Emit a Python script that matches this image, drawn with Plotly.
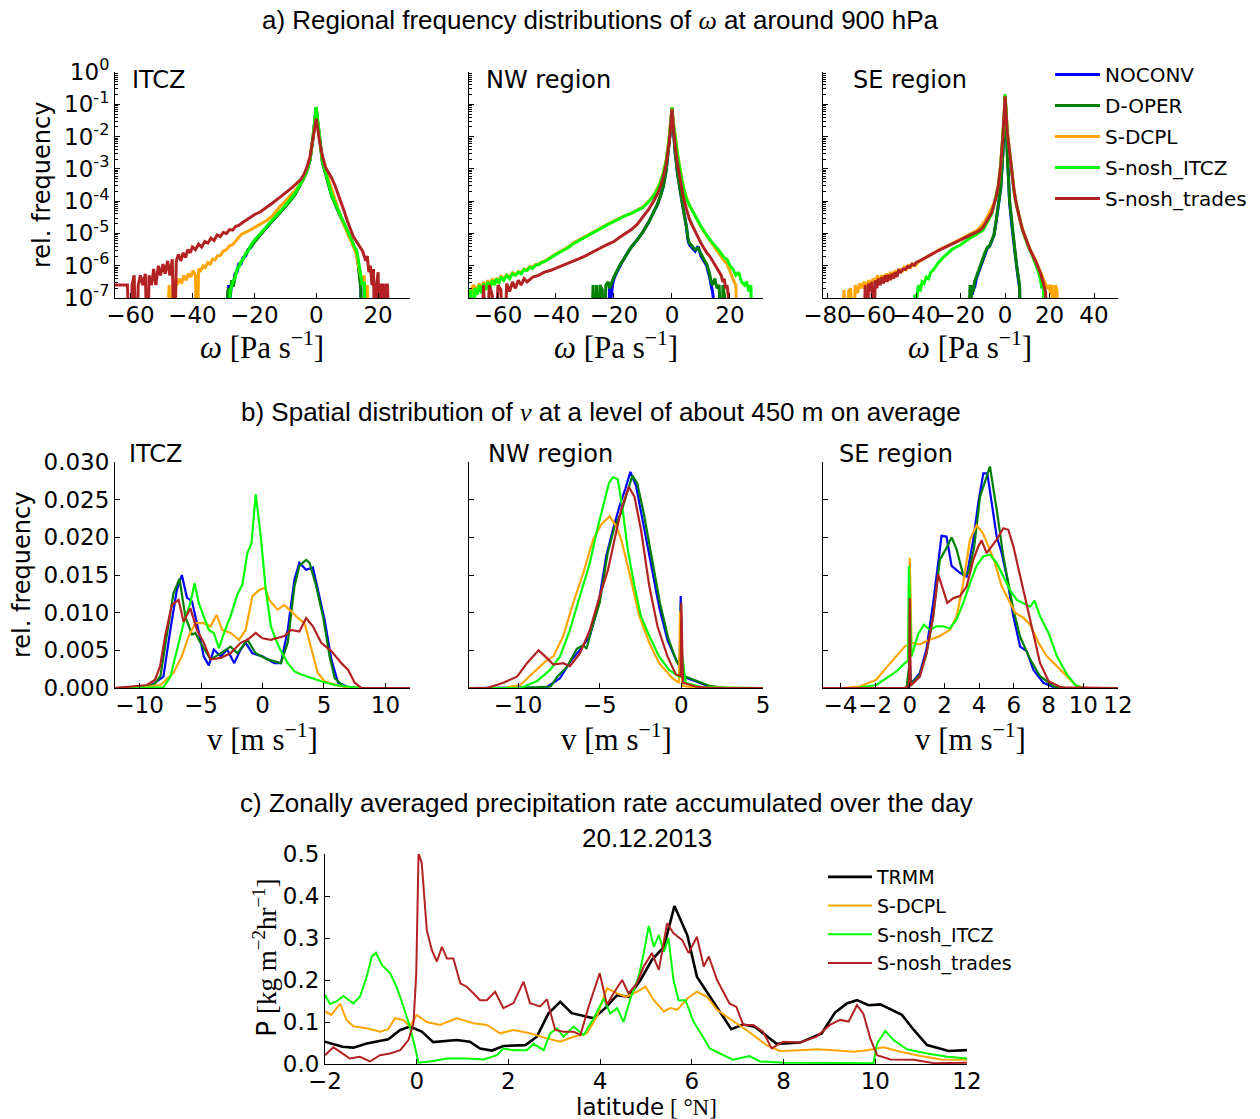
import numpy as np
import plotly.graph_objects as go

W, H = 1260, 1119

COLORS = {"NOCONV": "#0000ff", "D-OPER": "#008000", "S-DCPL": "#ffa500",
          "S-nosh_ITCZ": "#00ff00", "S-nosh_trades": "#b22222", "TRMM": "#000000"}
MODELS = ["NOCONV", "D-OPER", "S-DCPL", "S-nosh_ITCZ", "S-nosh_trades"]

# ---------------- a) omega distributions: log10(rel. frequency), -9 = empty bin ----------------
A1_CORE_X = [-29.5, -28.6, -28.3, -27.8, -27.3, -26.8, -26.2, -25.6, -25.0, -24.3, -23.6, -22.8, -22.0, -21.0,
             -20.0, -18.5, -17.0, -15.0, -13.0, -11.0, -9.0, -7.0, -5.0, -4.0, -3.0, -2.0, -1.0, -0.5, 0.0, 0.5,
             1.0, 2.0, 3.0, 4.0, 5.0, 6.0, 7.0, 8.0, 9.0, 10.0, 11.0, 11.8, 12.5, 13.0, 13.5, 14.0, 14.4, 14.8,
             15.5, 16.2, 17.0]
A1_NOCONV = [-9, -9, -6.6, -7.0, -6.5, -6.6, -6.25, -6.2, -5.95, -5.95, -5.75, -5.7, -5.5, -5.42, -5.25, -5.08,
             -4.9, -4.68, -4.48, -4.28, -4.05, -3.8, -3.45, -3.28, -3.05, -2.72, -2.0, -1.55, -1.1, -1.55, -2.0,
             -2.78, -3.12, -3.45, -3.82, -4.05, -4.3, -4.5, -4.7, -4.9, -5.1, -5.3, -5.5, -5.55, -5.85, -6.2,
             -6.6, -9, -9, -9, -9]
A1_DOPER = [-9, -6.8, -6.7, -6.9, -6.45, -6.65, -6.3, -6.15, -6.0, -5.9, -5.78, -5.65, -5.52, -5.4, -5.27, -5.1,
            -4.92, -4.7, -4.5, -4.3, -4.07, -3.82, -3.47, -3.3, -3.07, -2.74, -2.02, -1.57, -1.1, -1.57, -2.02,
            -2.8, -3.14, -3.47, -3.84, -4.07, -4.32, -4.52, -4.72, -4.92, -5.12, -5.32, -5.5, -5.6, -5.9, -6.3,
            -6.7, -9, -9, -9, -9]
A1_NOSH_ITCZ = [-9, -9, -9, -6.8, -6.6, -6.45, -6.4, -6.1, -6.05, -5.88, -5.8, -5.62, -5.55, -5.35, -5.22, -5.05,
                -4.88, -4.65, -4.45, -4.25, -4.03, -3.78, -3.44, -3.27, -3.04, -2.7, -1.98, -1.5, -1.08, -1.5,
                -1.98, -2.75, -3.1, -3.44, -3.8, -4.03, -4.28, -4.48, -4.68, -4.88, -5.08, -5.28, -5.45, -5.5,
                -5.75, -6.0, -6.3, -6.6, -6.5, -9, -9]
A1_DCPL_X = [-48.5, -47.5, -47.0, -46.3, -45.6, -45.0, -44.3, -43.5, -42.8, -42.0, -41.3, -40.5, -39.8, -39.0,
             -38.5, -38.0, -37.3, -36.5, -35.8, -35.0, -34.2, -33.5, -32.7, -32.0, -31.0, -30.0, -29.0, -28.0,
             -27.0, -26.0, -25.0, -24.0, -23.0, -22.0, -21.0, -20.0, -18.0, -16.0, -14.0, -12.0, -10.0, -8.0,
             -6.0, -5.0, -4.0, -3.0, -2.0, -1.0, -0.5, 0.0, 0.5, 1.0, 2.0, 3.0, 4.0, 5.0, 6.0, 7.0, 8.0, 9.0,
             10.0, 11.0, 12.0, 12.8, 13.5, 14.2, 15.0, 15.5, 16.0, 16.5, 17.0]
A1_DCPL = [-9, -6.6, -9, -6.6, -6.45, -6.6, -6.4, -6.55, -6.3, -6.45, -6.25, -6.35, -6.15, -6.3, -9, -6.1,
           -6.15, -6.0, -6.05, -5.9, -5.95, -5.8, -5.82, -5.7, -5.68, -5.55, -5.5, -5.38, -5.35, -5.22, -5.12,
           -5.02, -4.98, -4.92, -4.88, -4.82, -4.7, -4.6, -4.45, -4.2, -4.0, -3.8, -3.58, -3.45, -3.28, -3.02,
           -2.68, -2.0, -1.6, -1.2, -1.6, -2.0, -2.72, -3.05, -3.35, -3.65, -3.95, -4.25, -4.5, -4.75, -4.95,
           -5.15, -5.4, -5.6, -5.9, -6.3, -6.6, -6.3, -9, -6.6, -9]
A1_TRADES_X = [-66.0, -65.0, -63.0, -61.0, -60.0, -59.5, -58.8, -58.2, -57.5, -56.8, -56.0, -55.2, -54.5, -54.0,
               -53.2, -52.5, -51.8, -51.0, -50.3, -49.5, -48.8, -48.0, -47.3, -46.5, -45.8, -45.2, -44.5, -43.7,
               -43.0, -42.2, -41.5, -40.7, -40.0, -39.0, -38.0, -37.0, -36.0, -35.0, -34.0, -33.0, -32.0, -31.0,
               -30.0, -29.0, -28.0, -27.0, -26.0, -25.0, -24.0, -23.0, -22.0, -21.0, -20.0, -18.0, -16.0, -14.0,
               -12.0, -10.0, -8.0, -6.0, -5.0, -4.0, -3.0, -2.0, -1.0, -0.5, 0.0, 0.5, 1.0, 2.0, 3.0, 4.0, 5.0,
               6.0, 7.0, 8.0, 9.0, 10.0, 11.0, 12.0, 13.0, 14.0, 15.0, 16.0, 16.5, 17.0, 17.5, 18.0, 18.5, 19.0,
               19.5, 20.0, 20.5, 21.0, 21.5, 22.0, 22.5, 23.0, 23.3, 24.0]
A1_TRADES = [-6.6, -6.6, -6.6, -6.6, -9, -6.6, -6.3, -9, -6.6, -6.3, -6.6, -6.25, -9, -6.3, -6.6, -6.1, -6.6,
             -6.0, -6.3, -5.95, -6.25, -5.85, -6.3, -5.8, -9, -5.85, -5.65, -5.85, -5.6, -5.75, -5.5, -5.6, -5.42,
             -5.5, -5.33, -5.42, -5.25, -5.3, -5.15, -5.22, -5.05, -5.1, -4.97, -5.0, -4.88, -4.9, -4.78, -4.75,
             -4.68, -4.62, -4.55, -4.5, -4.42, -4.33, -4.2, -4.05, -3.9, -3.75, -3.6, -3.42, -3.33, -3.18, -2.95,
             -2.62, -2.05, -1.75, -1.45, -1.75, -2.1, -2.6, -2.95, -3.12, -3.28, -3.5, -3.75, -4.0, -4.3, -4.6,
             -4.88, -5.1, -5.25, -5.4, -5.55, -5.85, -5.7, -6.2, -6.0, -6.6, -6.1, -9, -6.6, -6.2, -9, -6.6,
             -6.6, -9, -6.6, -6.6, -9, -9]

A2_WIDE_X = [-72, -70.5, -70, -69.3, -68.6, -68, -67.2, -66.5, -65.7, -65, -64.2, -63.5, -62.7, -62, -61.2,
             -60.5, -59.7, -59, -58, -57, -56, -55, -54, -53, -52, -51, -50, -49, -48, -47, -46, -45, -44, -43,
             -42, -41, -40, -38, -36, -34, -32, -30, -28, -26, -24, -22, -20, -18, -16, -14, -12, -10, -8, -6,
             -5, -4, -3, -2, -1, -0.5, 0, 0.5, 1, 2, 3, 4, 5, 6, 8, 10, 12, 14, 16, 18, 19, 20, 21, 22, 23, 24,
             25, 25.8, 26.5, 27.2, 28, 29]
A2_NOSH_ITCZ = [-9, -6.8, -7.0, -6.75, -9, -6.7, -6.9, -6.6, -6.85, -6.55, -6.75, -6.5, -6.7, -6.45, -6.6, -6.4,
                -6.55, -6.35, -6.45, -6.3, -6.4, -6.25, -6.3, -6.2, -6.25, -6.12, -6.15, -6.05, -6.08, -5.98,
                -5.97, -5.9, -5.88, -5.82, -5.78, -5.72, -5.65, -5.55, -5.45, -5.32, -5.22, -5.1, -5.0, -4.9,
                -4.8, -4.72, -4.63, -4.53, -4.45, -4.38, -4.3, -4.2, -4.02, -3.8, -3.62, -3.42, -3.15, -2.75,
                -2.1, -1.65, -1.1, -1.6, -2.0, -2.6, -3.15, -3.6, -3.92, -4.12, -4.45, -4.78, -5.05, -5.3, -5.5,
                -5.75, -5.8, -6.0, -6.1, -6.3, -6.2, -6.5, -6.6, -6.5, -6.8, -6.6, -9, -9]
A2_DCPL = [-9, -9, -6.75, -6.9, -6.6, -6.65, -6.8, -6.55, -6.8, -6.5, -6.7, -6.45, -6.65, -6.4, -6.55, -6.38,
           -6.5, -6.3, -6.42, -6.28, -6.35, -6.22, -6.28, -6.18, -6.2, -6.1, -6.12, -6.02, -6.05, -5.96, -5.95,
           -5.88, -5.86, -5.8, -5.76, -5.7, -5.63, -5.53, -5.43, -5.3, -5.2, -5.08, -4.98, -4.88, -4.78, -4.7,
           -4.61, -4.52, -4.44, -4.37, -4.28, -4.18, -4.0, -3.78, -3.6, -3.4, -3.13, -2.73, -2.08, -1.63, -1.1,
           -1.58, -1.98, -2.58, -3.12, -3.58, -3.9, -4.12, -4.46, -4.8, -5.08, -5.35, -5.58, -5.85, -5.95,
           -6.2, -6.4, -6.6, -9, -9, -9, -9, -9, -9, -9, -9]
A2_TRADES_X = [-66, -65, -64, -63, -62, -61, -60, -59, -58, -57, -56, -55, -54, -53, -52, -51, -50, -48, -46, -44,
               -42, -40, -38, -36, -34, -32, -30, -28, -26, -24, -22, -20, -18, -16, -14, -12, -10, -8, -6, -5,
               -4, -3, -2, -1, -0.5, 0, 0.5, 1, 2, 3, 4, 5, 6, 7, 8, 9, 10, 11, 12, 13, 14, 15, 16, 17, 17.5,
               18, 18.5, 19, 19.5, 20, 21]
A2_TRADES = [-9, -6.6, -9, -6.6, -6.9, -9, -6.6, -6.75, -9, -6.55, -6.8, -6.5, -6.7, -6.45, -6.6, -6.4, -6.5,
             -6.35, -6.3, -6.2, -6.15, -6.08, -6.0, -5.93, -5.85, -5.78, -5.7, -5.6, -5.5, -5.42, -5.33, -5.25,
             -5.12, -5.0, -4.88, -4.72, -4.5, -4.25, -3.95, -3.78, -3.55, -3.25, -2.85, -2.2, -1.7, -1.15, -1.7,
             -2.2, -2.9, -3.45, -3.9, -4.25, -4.55, -4.75, -4.95, -5.15, -5.3, -5.45, -5.6, -5.7, -5.85, -6.0,
             -6.15, -6.3, -6.5, -6.4, -6.7, -6.6, -7.0, -9, -9]
A2_NOCONV_X = [-24, -22, -21.5, -21, -20.5, -20, -19, -18, -17, -16, -15, -14, -12, -10, -8, -6, -5, -4, -3, -2,
               -1, -0.5, 0, 0.5, 1, 2, 3, 4, 5, 5.5, 6, 7, 8, 9, 9.5, 10, 11, 12, 12.5, 13, 13.5, 14, 14.5, 15,
               16]
A2_NOCONV = [-9, -9, -6.6, -7.0, -6.6, -6.4, -6.2, -6.0, -5.85, -5.7, -5.55, -5.42, -5.2, -4.95, -4.65, -4.3,
             -4.1, -3.85, -3.55, -3.05, -2.3, -1.8, -1.1, -1.8, -2.4, -3.2, -3.8, -4.3, -4.8, -5.2, -5.35, -5.45,
             -5.55, -5.4, -5.6, -5.7, -5.85, -6.0, -6.2, -6.35, -6.6, -6.8, -7.2, -9, -9]
A2_DOPER_X = [-28, -27.2, -26.8, -26, -25.4, -24.8, -24, -23.5, -22.8, -22, -21.5, -21, -20.5, -20, -19, -18, -17,
              -16, -15, -14, -12, -10, -8, -6, -5, -4, -3, -2, -1, -0.5, 0, 0.5, 1, 2, 3, 4, 5, 5.5, 6, 7, 8, 9,
              9.5, 10, 11, 12, 12.5, 13, 13.5, 14, 14.8, 15.5, 16.3, 17, 17.6, 18.2, 19]
A2_DOPER = [-9, -6.6, -9, -6.6, -9, -6.6, -6.75, -9, -6.6, -6.5, -6.7, -6.55, -6.45, -6.35, -6.15, -5.98, -5.85,
            -5.7, -5.55, -5.42, -5.2, -4.95, -4.65, -4.3, -4.1, -3.85, -3.55, -3.05, -2.3, -1.8, -1.1, -1.8,
            -2.4, -3.2, -3.8, -4.3, -4.8, -5.15, -5.3, -5.4, -5.5, -5.45, -5.55, -5.65, -5.8, -5.95, -6.1,
            -6.25, -6.5, -6.6, -6.4, -6.7, -6.6, -9, -6.6, -7.0, -9]

A3_DCPL_X = [-74, -72.5, -71.5, -70.5, -69.5, -68.5, -67.5, -66.5, -65.5, -64.5, -63.5, -62.5, -61.5, -60.5,
             -59.5, -58.5, -57.5, -56.5, -55.5, -54.5, -53.5, -52.5, -51.5, -50.5, -49.5, -48.5, -47.5, -46.5,
             -45.5, -44.5, -43.5, -42.5, -41.5, -40.5, -39, -37, -35, -33, -31, -29, -27, -25, -23, -21, -19,
             -17, -15, -13, -11, -9, -7, -5, -4, -3, -2, -1, -0.5, 0, 0.5, 1, 2, 3, 4, 5, 6, 7, 8, 9, 10, 11,
             12, 13, 14, 15, 16, 17, 18, 19, 19.8, 20.5, 21.2, 22, 22.7, 23.4, 24]
A3_DCPL = [-9, -6.75, -9, -6.8, -6.7, -9, -6.6, -6.85, -6.55, -6.7, -6.5, -6.65, -6.45, -6.6, -6.4, -6.5, -6.3,
           -6.45, -6.3, -6.4, -6.25, -6.35, -6.2, -6.3, -6.15, -6.25, -6.1, -6.2, -6.05, -6.12, -6.0, -6.05,
           -5.95, -6.0, -5.88, -5.8, -5.72, -5.62, -5.55, -5.48, -5.42, -5.35, -5.28, -5.2, -5.12, -5.05, -5.0,
           -4.92, -4.8, -4.6, -4.35, -4.05, -3.8, -3.45, -2.85, -1.95, -1.4, -0.72, -1.35, -1.85, -2.45, -3.15,
           -3.65, -4.05, -4.38, -4.65, -4.9, -5.1, -5.3, -5.45, -5.6, -5.72, -5.88, -6.05, -6.2, -6.4, -6.55,
           -6.7, -6.6, -6.9, -6.6, -9, -6.6, -6.8, -9]
A3_TRADES_X = [-64, -63, -62.2, -61.5, -60.8, -60, -59.3, -58.5, -57.8, -57, -56.3, -55.5, -54.8, -54, -53.2,
               -52.5, -51.7, -51, -50.2, -49.5, -48.7, -48, -47, -46, -45, -44, -43, -42, -41, -40, -38, -36,
               -34, -32, -30, -28, -26, -24, -22, -20, -18, -16, -14, -12, -10, -8, -6, -5, -4, -3, -2, -1,
               -0.5, 0, 0.5, 1, 2, 3, 4, 5, 6, 7, 8, 9, 10, 11, 12, 13, 14, 15, 16, 16.8, 17.5, 18.2, 19, 19.8]
A3_TRADES = [-9, -6.6, -9, -6.55, -6.8, -6.5, -9, -6.45, -6.7, -6.4, -6.6, -6.35, -6.55, -6.3, -6.5, -6.28,
             -6.45, -6.25, -6.4, -6.2, -6.35, -6.15, -6.2, -6.1, -6.12, -6.02, -6.05, -5.95, -5.98, -5.9, -5.83,
             -5.75, -5.68, -5.6, -5.53, -5.46, -5.4, -5.33, -5.27, -5.2, -5.13, -5.07, -5.0, -4.93, -4.82, -4.6,
             -4.35, -4.1, -3.85, -3.5, -2.9, -1.98, -1.42, -0.75, -1.38, -1.9, -2.48, -3.18, -3.68, -4.08, -4.4,
             -4.68, -4.92, -5.12, -5.32, -5.48, -5.62, -5.75, -5.9, -6.08, -6.25, -6.45, -6.6, -6.8, -9, -9]
A3_NOSH_ITCZ_X = [-42, -40.5, -39.8, -39, -38.2, -37.4, -36.5, -35.5, -34.5, -33.5, -32.5, -31.5, -30, -28, -26,
                  -24, -22, -20, -18, -16, -14, -12, -10, -8, -6, -5, -4, -3, -2, -1, -0.5, 0, 0.5, 1, 2, 3, 4,
                  5, 6, 7, 8, 9, 10, 11, 12, 13, 14, 15, 15.8, 16.5, 17.2, 18, 19]
A3_NOSH_ITCZ = [-9, -6.9, -7.0, -6.6, -6.8, -6.5, -6.55, -6.35, -6.4, -6.2, -6.15, -6.05, -5.9, -5.75, -5.62,
                -5.5, -5.42, -5.35, -5.25, -5.15, -5.08, -5.0, -4.9, -4.65, -4.38, -4.12, -3.85, -3.5, -2.9,
                -1.98, -1.42, -0.7, -1.38, -1.9, -2.48, -3.2, -3.7, -4.1, -4.42, -4.7, -4.95, -5.15, -5.35,
                -5.5, -5.65, -5.8, -6.0, -6.2, -6.4, -6.7, -6.6, -9, -9]
A3_CORE_X = [-17, -15.8, -15.3, -14.8, -14.3, -13.8, -13, -12, -11, -10, -9, -8, -7, -6, -5, -4, -3, -2, -1,
             -0.5, 0, 0.5, 1, 2, 3, 4, 5, 5.5, 6, 6.5, 7, 8]
A3_NOCONV = [-9, -9, -6.8, -6.9, -6.6, -6.7, -6.4, -6.2, -6.0, -5.8, -5.6, -5.45, -5.4, -5.25, -5.05, -4.6,
             -4.15, -3.6, -2.5, -1.7, -0.72, -1.7, -2.7, -4.05, -4.75, -5.4, -5.95, -6.2, -6.45, -6.7, -9, -9]
A3_DOPER = [-9, -6.6, -7.0, -6.6, -6.8, -6.5, -6.35, -6.15, -5.97, -5.78, -5.58, -5.43, -5.38, -5.22, -5.03,
            -4.58, -4.13, -3.58, -2.48, -1.68, -0.7, -1.68, -2.68, -4.0, -4.7, -5.35, -5.9, -6.15, -6.4, -6.6,
            -9, -9]

# ---------------- b) v distributions (rel. frequency) ----------------
B1_NOCONV_X = [-12, -10, -9, -8.06, -7.5, -6.97, -6.56, -6.15, -5.74, -5.33, -4.78, -4.37, -3.96, -3.4, -2.87,
               -2.3, -1.78, -1.37, -0.82, 0, 0.96, 1.5, 2.05, 2.6, 3.0, 3.55, 4.1, 4.5, 5.05, 5.6, 6.15, 7, 8,
               10, 12]
B1_NOCONV = [0, 0.0001, 0.0004, 0.0015, 0.0077, 0.013, 0.015, 0.012, 0.0115, 0.0086, 0.0042, 0.003, 0.0051,
             0.0042, 0.0051, 0.0033, 0.0051, 0.006, 0.0046, 0.0042, 0.0033, 0.0033, 0.0077, 0.0144, 0.0166,
             0.0157, 0.016, 0.013, 0.0091, 0.0038, 0.0007, 0.0001, 0, 0, 0]
B1_DOPER_X = [-12, -10, -8.8, -8.3, -7.8, -7.24, -6.75, -6.28, -5.74, -5.46, -5.05, -4.23, -3.4, -2.6, -2.05,
              -1.23, -0.55, 0.41, 1.5, 2.05, 2.6, 3.0, 3.55, 3.83, 4.37, 4.92, 5.46, 5.87, 6.7, 8, 12]
B1_DOPER = [0, 0.0001, 0.0005, 0.0016, 0.0069, 0.0126, 0.0145, 0.0095, 0.0071, 0.0073, 0.006, 0.0038, 0.0046,
            0.0055, 0.0046, 0.0064, 0.0046, 0.0038, 0.0033, 0.006, 0.0135, 0.0162, 0.017, 0.0166, 0.0135,
            0.0095, 0.0042, 0.0013, 0.0001, 0, 0]
B1_DCPL_X = [-12, -9.7, -8.3, -7.24, -6.56, -6.0, -5.46, -4.78, -4.23, -3.74, -3.28, -2.6, -1.91, -1.37, -0.82,
             -0.27, 0.19, 0.55, 1.23, 1.78, 2.32, 2.87, 3.42, 3.96, 4.5, 5.05, 6.4, 7.5, 12]
B1_DCPL = [0, 0.0001, 0.0004, 0.002, 0.0042, 0.0069, 0.0086, 0.0086, 0.0082, 0.0097, 0.0077, 0.0073, 0.0064,
           0.0077, 0.0122, 0.013, 0.0133, 0.0117, 0.0104, 0.011, 0.0102, 0.0093, 0.0086, 0.0051, 0.002, 0.0009,
           0.0002, 0, 0]
B1_NOSH_ITCZ_X = [-12, -9, -8.06, -7.5, -6.97, -6.42, -5.87, -5.52, -5.19, -4.78, -4.37, -3.96, -3.55, -3.14,
                  -2.6, -2.05, -1.64, -1.23, -0.9, -0.55, -0.14, 0.27, 0.68, 1.09, 1.5, 2.05, 2.6, 3.14, 3.96,
                  4.78, 5.87, 7.2, 8, 12]
B1_NOSH_ITCZ = [0, 0, 0.0001, 0.0015, 0.0051, 0.0086, 0.0113, 0.0139, 0.0113, 0.0095, 0.0077, 0.0073, 0.0053,
                0.0073, 0.0095, 0.0124, 0.0137, 0.0179, 0.0192, 0.0257, 0.0201, 0.013, 0.0082, 0.0064, 0.0049,
                0.0033, 0.0022, 0.0018, 0.0013, 0.0009, 0.0004, 0.0001, 0, 0]
B1_TRADES_X = [-12, -10.5, -9.4, -8.74, -8.33, -7.92, -7.38, -6.83, -6.42, -5.87, -5.33, -4.78, -4.23, -3.4,
               -2.6, -1.78, -1.23, -0.55, 0, 0.68, 1.23, 1.78, 2.32, 3.0, 3.55, 4.1, 4.78, 5.6, 6.42, 6.97, 7.5,
               8.06, 12]
B1_TRADES = [0, 0.0002, 0.0004, 0.0011, 0.0029, 0.0069, 0.011, 0.0117, 0.0088, 0.0106, 0.0077, 0.006, 0.0038,
             0.004, 0.0046, 0.006, 0.0064, 0.0073, 0.0066, 0.0064, 0.0066, 0.0069, 0.0077, 0.0075, 0.0093,
             0.0082, 0.006, 0.0049, 0.0033, 0.0024, 0.0007, 0, 0]

B2_NOCONV_X = [-13, -9.86, -8.24, -7.43, -6.8, -6.2, -5.6, -5.1, -4.6, -4.19, -3.79, -3.42, -3.12, -2.77, -2.37,
               -1.86, -1.36, -0.85, -0.34, -0.1, -0.04, 0.06, 0.36, 0.87, 1.68, 2.7, 5]
B2_NOCONV = [0, 0, 0.0001, 0.0013, 0.0035, 0.0051, 0.0069, 0.0108, 0.0175, 0.021, 0.0241, 0.0265, 0.0287,
             0.0268, 0.0223, 0.0166, 0.0108, 0.0064, 0.0038, 0.0029, 0.0122, 0.0016, 0.0013, 0.0009, 0.0002, 0, 0]
B2_DOPER_X = [-13, -9.86, -8.0, -7.6, -7.0, -6.4, -6.0, -5.8, -5.5, -5.0, -4.5, -4.1, -3.7, -3.3, -3.0, -2.7,
              -2.3, -1.8, -1.3, -0.8, -0.3, -0.1, -0.03, 0.05, 0.4, 0.9, 1.7, 2.7, 5]
B2_DOPER = [0, 0, 0.0002, 0.0015, 0.0028, 0.0052, 0.0057, 0.0052, 0.0078, 0.0113, 0.018, 0.0213, 0.0232, 0.0262,
            0.0282, 0.0272, 0.0232, 0.0172, 0.0112, 0.0066, 0.0036, 0.0028, 0.0112, 0.0017, 0.0014, 0.001,
            0.0003, 0, 0]
B2_DCPL_X = [-13, -10.87, -9.86, -8.85, -8.34, -7.83, -7.23, -6.62, -6.0, -5.4, -4.9, -4.39, -3.99, -3.68,
             -3.18, -2.57, -1.96, -1.36, -0.55, -0.14, -0.08, 0.06, 0.7, 5]
B2_DCPL = [0, 0, 0.0004, 0.0024, 0.0035, 0.0042, 0.0069, 0.0113, 0.0153, 0.0197, 0.0217, 0.0228, 0.0215, 0.0197,
           0.0153, 0.0095, 0.006, 0.0033, 0.0013, 0.0007, 0.0102, 0.0003, 0.0001, 0]
B2_NOSH_ITCZ_X = [-13, -9.86, -8.85, -8.04, -7.43, -6.82, -6.21, -5.6, -5.2, -4.8, -4.43, -4.19, -3.89, -3.62,
                  -3.28, -2.87, -2.47, -1.96, -1.36, -0.75, -0.14, -0.05, 0.02, 0.26, 1.27, 5]
B2_NOSH_ITCZ = [0, 0, 0.0009, 0.0024, 0.0042, 0.0077, 0.0122, 0.0166, 0.0206, 0.0241, 0.0272, 0.028, 0.0277,
                0.0241, 0.0184, 0.0135, 0.0095, 0.0069, 0.0042, 0.0024, 0.0015, 0.0015, 0.005, 0.0007, 0.0001, 0]
B2_TRADES_X = [-13, -11.9, -10.9, -10.06, -9.45, -8.74, -8.34, -7.83, -7.23, -6.82, -6.21, -5.6, -5.0, -4.49,
               -4.09, -3.68, -3.22, -2.87, -2.47, -1.96, -1.46, -0.85, -0.34, -0.04, 0.0, 0.1, 0.87, 1.68, 5]
B2_TRADES = [0, 0, 0.0007, 0.0015, 0.0033, 0.005, 0.0042, 0.0031, 0.0033, 0.0029, 0.0046, 0.0077, 0.0122,
             0.0157, 0.0197, 0.0237, 0.0267, 0.0254, 0.021, 0.0135, 0.0082, 0.0042, 0.0018, 0.0016, 0.0113,
             0.0007, 0.0002, 0, 0]

B3_NOCONV_X = [-5, -0.19, -0.03, 0.0, 0.05, 0.19, 0.58, 0.96, 1.35, 1.64, 1.83, 2.12, 2.41, 2.89, 3.28, 3.66,
               3.95, 4.24, 4.47, 4.72, 5.01, 5.3, 5.59, 5.97, 6.36, 6.74, 7.13, 7.7, 8.3, 9, 12]
B3_NOCONV = [0, 0, 0.0002, 0.0045, 0.0008, 0.0009, 0.002, 0.0051, 0.0113, 0.0166, 0.0202, 0.0201, 0.0162,
             0.0153, 0.0148, 0.0197, 0.0246, 0.0285, 0.0285, 0.0246, 0.0201, 0.0179, 0.0148, 0.0095, 0.0055,
             0.0049, 0.0024, 0.0007, 0.0001, 0, 0]
B3_DOPER_X = [-5, -0.19, 0.0, 0.05, 0.19, 0.58, 0.96, 1.35, 1.73, 2.12, 2.41, 2.7, 3.08, 3.37, 3.7, 4.05, 4.35,
              4.62, 4.85, 5.01, 5.39, 5.97, 6.36, 6.94, 7.5, 8.3, 9, 12]
B3_DOPER = [0, 0, 0.0035, 0.0004, 0.0008, 0.0018, 0.0045, 0.0095, 0.017, 0.0186, 0.02, 0.0184, 0.015, 0.0152,
            0.0185, 0.0254, 0.0275, 0.0294, 0.026, 0.0237, 0.0175, 0.0104, 0.0068, 0.0038, 0.0016, 0.0002, 0, 0]
B3_DCPL_X = [-5, -3.85, -2.89, -1.93, -1.35, -0.77, -0.29, -0.05, 0.0, 0.1, 0.58, 1.16, 1.73, 2.31, 2.7, 3.08,
             3.47, 3.85, 4.2, 4.53, 4.91, 5.3, 5.68, 6.07, 6.55, 6.94, 7.42, 7.9, 8.48, 9.06, 9.63, 10.4, 12]
B3_DCPL = [0, 0, 0.0002, 0.0011, 0.0027, 0.0042, 0.0055, 0.0058, 0.0173, 0.006, 0.0058, 0.0064, 0.0069, 0.0077,
           0.0095, 0.0139, 0.0197, 0.0216, 0.0206, 0.0188, 0.0166, 0.0135, 0.0117, 0.01, 0.0093, 0.0084, 0.006,
           0.0042, 0.0029, 0.0015, 0.0002, 0, 0]
B3_NOSH_ITCZ_X = [-5, -3.08, -1.93, -1.35, -0.77, -0.29, -0.1, -0.05, 0.1, 0.48, 0.81, 1.16, 1.54, 1.93, 2.31,
                  2.7, 3.08, 3.47, 3.85, 4.24, 4.62, 5.01, 5.39, 5.78, 6.17, 6.55, 6.94, 7.19, 7.51, 8.0, 8.48,
                  9.06, 9.54, 10.0, 12]
B3_NOSH_ITCZ = [0, 0, 0.0004, 0.0013, 0.0022, 0.0033, 0.0036, 0.0162, 0.0042, 0.0071, 0.0084, 0.0077, 0.0082,
                0.0082, 0.0079, 0.0091, 0.0113, 0.0139, 0.0162, 0.0175, 0.0177, 0.0166, 0.0148, 0.013, 0.0117,
                0.0113, 0.0108, 0.0116, 0.0095, 0.0073, 0.0042, 0.0018, 0.0004, 0, 0]
B3_TRADES_X = [-5, -0.3, -0.04, 0.0, 0.05, 0.58, 0.96, 1.35, 1.64, 1.93, 2.16, 2.5, 2.89, 3.28, 3.66, 3.95,
               4.14, 4.43, 4.72, 5.01, 5.39, 5.68, 5.97, 6.36, 6.74, 7.13, 7.51, 8.0, 8.7, 12]
B3_TRADES = [0, 0, 0.0003, 0.0119, 0.0003, 0.0015, 0.0046, 0.0095, 0.0151, 0.013, 0.0113, 0.0119, 0.0122,
             0.0135, 0.017, 0.0188, 0.0196, 0.0179, 0.0188, 0.0197, 0.0212, 0.021, 0.0188, 0.0148, 0.0108,
             0.0069, 0.0033, 0.0009, 0.0001, 0]

# ---------------- c) zonally averaged precipitation ----------------
C_TRMM_LAT = [-2, -1.62, -1.38, -1.09, -0.62, -0.36, -0.15, 0.11, 0.36, 0.87, 1.16, 1.38, 1.64, 1.89, 2.37, 2.62,
              2.87, 3.13, 3.38, 3.86, 4.11, 4.37, 4.62, 4.88, 5.13, 5.39, 5.62, 5.9, 6.11, 6.86, 7.12, 7.37,
              7.85, 8.36, 8.83, 9.12, 9.38, 9.6, 9.85, 10.11, 10.58, 10.84, 11.13, 11.6, 12]
C_TRMM = [0.053, 0.041, 0.039, 0.049, 0.059, 0.081, 0.089, 0.077, 0.052, 0.057, 0.053, 0.037, 0.032, 0.043, 0.045,
          0.065, 0.12, 0.148, 0.121, 0.109, 0.133, 0.164, 0.16, 0.2, 0.248, 0.279, 0.376, 0.307, 0.208, 0.083,
          0.094, 0.089, 0.048, 0.051, 0.073, 0.122, 0.144, 0.152, 0.14, 0.142, 0.117, 0.081, 0.045, 0.031, 0.033]
C_DCPL_LAT = [-2, -1.86, -1.67, -1.53, -1.38, -1.09, -0.8, -0.62, -0.47, -0.29, -0.15, 0, 0.22, 0.51, 0.87, 1.24,
              1.53, 1.82, 2.11, 2.47, 2.84, 3.13, 3.42, 3.71, 3.93, 4.15, 4.37, 4.57, 4.8, 4.99, 5.17, 5.39, 5.53,
              5.68, 5.9, 6.11, 6.33, 6.55, 6.86, 7.19, 7.63, 7.92, 8.36, 8.72, 9.09, 9.53, 9.82, 10.18, 10.55,
              10.99, 11.43, 12]
C_DCPL = [0.125, 0.117, 0.144, 0.105, 0.09, 0.085, 0.077, 0.083, 0.109, 0.105, 0.089, 0.117, 0.1, 0.093, 0.109,
          0.097, 0.093, 0.073, 0.081, 0.073, 0.061, 0.053, 0.065, 0.073, 0.113, 0.18, 0.168, 0.16, 0.172, 0.184,
          0.152, 0.125, 0.133, 0.129, 0.156, 0.172, 0.16, 0.129, 0.105, 0.081, 0.045, 0.031, 0.033, 0.035, 0.033,
          0.029, 0.033, 0.04, 0.029, 0.019, 0.011, 0.01]
C_NOSH_ITCZ_LAT = [-2, -1.89, -1.75, -1.6, -1.38, -1.24, -1.09, -0.98, -0.89, -0.76, -0.58, -0.44, -0.29, -0.15,
                   -0.04, 0.04, 0.29, 0.66, 1.09, 1.46, 1.75, 1.89, 2.11, 2.4, 2.55, 2.77, 2.91, 3.06, 3.2, 3.42,
                   3.64, 3.86, 4.08, 4.22, 4.37, 4.51, 4.66, 4.84, 4.95, 5.06, 5.17, 5.28, 5.39, 5.49, 5.6, 5.71,
                   5.86, 6.04, 6.24, 6.39, 6.61, 6.9, 7.26, 7.48, 7.99, 8.72, 9.45, 9.96, 10.04, 10.22, 10.4,
                   10.69, 11.13, 11.57, 12]
C_NOSH_ITCZ = [0.164, 0.143, 0.149, 0.162, 0.144, 0.16, 0.208, 0.256, 0.265, 0.236, 0.216, 0.184, 0.137, 0.089,
               0.041, 0.003, 0.006, 0.013, 0.013, 0.011, 0.021, 0.037, 0.033, 0.033, 0.048, 0.033, 0.073, 0.085,
               0.065, 0.089, 0.069, 0.109, 0.156, 0.12, 0.133, 0.1, 0.156, 0.208, 0.263, 0.329, 0.279, 0.307,
               0.267, 0.3, 0.2, 0.152, 0.152, 0.1, 0.065, 0.037, 0.025, 0.01, 0.019, 0.006, 0.003, 0.003, 0.002,
               0.002, 0.049, 0.079, 0.057, 0.035, 0.025, 0.017, 0.013]
C_TRADES_LAT = [-2, -1.82, -1.67, -1.46, -1.24, -1.02, -0.8, -0.58, -0.36, -0.18, -0.07, -0.01, 0.04, 0.11, 0.22,
                0.33, 0.44, 0.55, 0.66, 0.8, 0.95, 1.09, 1.24, 1.38, 1.53, 1.71, 1.89, 2.11, 2.33, 2.47, 2.69,
                2.84, 3.02, 3.2, 3.42, 3.57, 3.75, 3.99, 4.15, 4.29, 4.48, 4.62, 4.8, 4.95, 5.13, 5.28, 5.46, 5.6,
                5.79, 5.93, 6.11, 6.26, 6.37, 6.55, 6.82, 6.97, 7.12, 7.34, 7.55, 7.74, 7.99, 8.36, 8.72, 9.01,
                9.23, 9.42, 9.6, 9.74, 9.89, 10.04, 10.33, 10.84, 11.28, 12]
C_TRADES = [0.021, 0.04, 0.029, 0.013, 0.017, 0.006, 0.021, 0.025, 0.033, 0.057, 0.097, 0.216, 0.502, 0.478,
            0.319, 0.271, 0.244, 0.279, 0.251, 0.251, 0.192, 0.184, 0.168, 0.152, 0.152, 0.172, 0.133, 0.145,
            0.196, 0.145, 0.137, 0.154, 0.081, 0.077, 0.077, 0.069, 0.137, 0.216, 0.141, 0.168, 0.2, 0.168, 0.192,
            0.232, 0.264, 0.224, 0.335, 0.311, 0.295, 0.264, 0.303, 0.232, 0.256, 0.2, 0.144, 0.136, 0.093, 0.093,
            0.077, 0.037, 0.053, 0.051, 0.065, 0.093, 0.105, 0.101, 0.14, 0.12, 0.061, 0.021, 0.011, 0.01, 0.002,
            0.003]

# ---------------- assemble ----------------
PANEL_A = {
    1: [("NOCONV", A1_CORE_X, A1_NOCONV), ("D-OPER", A1_CORE_X, A1_DOPER), ("S-DCPL", A1_DCPL_X, A1_DCPL),
        ("S-nosh_ITCZ", A1_CORE_X, A1_NOSH_ITCZ), ("S-nosh_trades", A1_TRADES_X, A1_TRADES)],
    2: [("NOCONV", A2_NOCONV_X, A2_NOCONV), ("D-OPER", A2_DOPER_X, A2_DOPER), ("S-DCPL", A2_WIDE_X, A2_DCPL),
        ("S-nosh_ITCZ", A2_WIDE_X, A2_NOSH_ITCZ), ("S-nosh_trades", A2_TRADES_X, A2_TRADES)],
    3: [("NOCONV", A3_CORE_X, A3_NOCONV), ("D-OPER", A3_CORE_X, A3_DOPER), ("S-DCPL", A3_DCPL_X, A3_DCPL),
        ("S-nosh_ITCZ", A3_NOSH_ITCZ_X, A3_NOSH_ITCZ), ("S-nosh_trades", A3_TRADES_X, A3_TRADES)],
}
PANEL_B = {
    4: [("NOCONV", B1_NOCONV_X, B1_NOCONV), ("D-OPER", B1_DOPER_X, B1_DOPER), ("S-DCPL", B1_DCPL_X, B1_DCPL),
        ("S-nosh_ITCZ", B1_NOSH_ITCZ_X, B1_NOSH_ITCZ), ("S-nosh_trades", B1_TRADES_X, B1_TRADES)],
    5: [("NOCONV", B2_NOCONV_X, B2_NOCONV), ("D-OPER", B2_DOPER_X, B2_DOPER), ("S-DCPL", B2_DCPL_X, B2_DCPL),
        ("S-nosh_ITCZ", B2_NOSH_ITCZ_X, B2_NOSH_ITCZ), ("S-nosh_trades", B2_TRADES_X, B2_TRADES)],
    6: [("NOCONV", B3_NOCONV_X, B3_NOCONV), ("D-OPER", B3_DOPER_X, B3_DOPER), ("S-DCPL", B3_DCPL_X, B3_DCPL),
        ("S-nosh_ITCZ", B3_NOSH_ITCZ_X, B3_NOSH_ITCZ), ("S-nosh_trades", B3_TRADES_X, B3_TRADES)],
}
PANEL_C = [("TRMM", C_TRMM_LAT, C_TRMM), ("S-DCPL", C_DCPL_LAT, C_DCPL),
           ("S-nosh_ITCZ", C_NOSH_ITCZ_LAT, C_NOSH_ITCZ), ("S-nosh_trades", C_TRADES_LAT, C_TRADES)]

problems = []
for grp in list(PANEL_A.values()) + list(PANEL_B.values()) + [PANEL_C]:
    for name, xs, ys in grp:
        if len(xs) != len(ys):
            problems.append((name, len(xs), len(ys), xs[0]))
if problems:
    raise SystemExit("length mismatch: %r" % problems)

fig = go.Figure()


def ax(i):
    return ("x" if i == 1 else "x%d" % i), ("y" if i == 1 else "y%d" % i)


for i, series in PANEL_A.items():
    xa, ya = ax(i)
    for name, xs, ly in series:
        fig.add_trace(go.Scatter(x=xs, y=np.power(10.0, np.array(ly, dtype=float)), mode="lines", name=name,
                                 line=dict(color=COLORS[name], width=3), xaxis=xa, yaxis=ya,
                                 showlegend=(i == 3), legend="legend", legendgroup="a_" + name,
                                 hoverinfo="skip"))
for i, series in PANEL_B.items():
    xa, ya = ax(i)
    for name, xs, ys in series:
        fig.add_trace(go.Scatter(x=xs, y=ys, mode="lines", name=name,
                                 line=dict(color=COLORS[name], width=2.2), xaxis=xa, yaxis=ya,
                                 showlegend=False, hoverinfo="skip"))
for name, xs, ys in PANEL_C:
    fig.add_trace(go.Scatter(x=xs, y=ys, mode="lines", name=name,
                             line=dict(color=COLORS[name], width=2.6 if name == "TRMM" else 2),
                             xaxis="x7", yaxis="y7", showlegend=True, legend="legend2",
                             legendgroup="c_" + name, hoverinfo="skip"))


def xd(l, r):
    return [l / W, r / W]


def yd(t, b):
    return [1 - b / H, 1 - t / H]


TICKFONT = dict(family="DejaVu Sans", size=23, color="#000")
base = dict(showline=True, linecolor="#000", linewidth=1, ticks="inside", ticklen=5, tickwidth=1,
            tickcolor="#000", showgrid=False, zeroline=False, tickfont=TICKFONT, tickangle=0,
            automargin=False)

COLS = [(115, 410), (469, 763), (823, 1118)]
ROW_A = (72, 298)
ROW_B = (462, 688)

A_XRANGES = [(-65, 30.3), (-70, 31.4), (-82, 50.8)]
A_XTICKS = [[-60, -40, -20, 0, 20], [-60, -40, -20, 0, 20], [-80, -60, -40, -20, 0, 20, 40]]
B_XRANGES = [(-12, 12), (-13, 5), (-5, 12)]
B_XTICKS = [[-10, -5, 0, 5, 10], [-10, -5, 0, 5], [-4, -2, 0, 2, 4, 6, 8, 10, 12]]

LOG_TICKS = [10.0 ** k for k in range(-7, 1)]
LOG_TEXT = ["10<sup>%d</sup>" % k for k in range(-7, 1)]
MINOR = [m * 10.0 ** k for k in range(-7, 0) for m in range(2, 10)]


def fmt(v):
    return ("\u2212%g" % -v) if v < 0 else "%g" % v


XSTAND = -4

lay = {}
for j in range(3):
    i = j + 1
    xk = "xaxis" if i == 1 else "xaxis%d" % i
    yk = "yaxis" if i == 1 else "yaxis%d" % i
    lay[xk] = dict(base, domain=xd(*COLS[j]), range=list(A_XRANGES[j]), anchor=ax(i)[1],
                   tickvals=A_XTICKS[j], ticktext=[fmt(v) for v in A_XTICKS[j]], ticklabelstandoff=XSTAND)
    lay[yk] = dict(base, domain=yd(*ROW_A), type="log", range=[-7, 0], anchor=ax(i)[0],
                   tickvals=LOG_TICKS, ticktext=LOG_TEXT, showticklabels=(i == 1),
                   minor=dict(tickvals=MINOR, ticks="inside", ticklen=3, tickcolor="#000", tickwidth=1))
for j in range(3):
    i = j + 4
    lay["xaxis%d" % i] = dict(base, domain=xd(*COLS[j]), range=list(B_XRANGES[j]), anchor="y%d" % i,
                              tickvals=B_XTICKS[j], ticktext=[fmt(v) for v in B_XTICKS[j]],
                              ticklabelstandoff=XSTAND)
    lay["yaxis%d" % i] = dict(base, domain=yd(*ROW_B), range=[0, 0.030], anchor="x%d" % i,
                              tickvals=[0, 0.005, 0.010, 0.015, 0.020, 0.025, 0.030], tickformat=".3f",
                              showticklabels=(i == 4))
lay["xaxis7"] = dict(base, domain=xd(325, 967), range=[-2, 12], anchor="y7",
                     tickvals=[-2, 0, 2, 4, 6, 8, 10, 12], ticktext=[fmt(v) for v in [-2, 0, 2, 4, 6, 8, 10, 12]],
                     ticklabelstandoff=XSTAND)
lay["yaxis7"] = dict(base, domain=yd(854, 1064), range=[0, 0.5], anchor="x7",
                     tickvals=[0, 0.1, 0.2, 0.3, 0.4, 0.5], tickformat=".1f")

SANS = "DejaVu Sans"
SERIF = "Liberation Serif"
TITLE = "Liberation Sans"


def ann(text, x, y, size, family=SANS, xanchor="center", yanchor="middle", angle=0):
    return dict(text=text, x=x / W, y=1 - y / H, xref="paper", yref="paper", showarrow=False,
                xanchor=xanchor, yanchor=yanchor, textangle=angle,
                font=dict(family=family, size=size, color="#000"))


annotations = [
    ann('a) Regional frequency distributions of <span style="font-family:Liberation Serif"><i>ω</i></span> at around 900 hPa',
        600, 20, 26, TITLE),
    ann('b) Spatial distribution of <span style="font-family:Liberation Serif"><i>v</i></span> at a level of about 450 m on average',
        601, 412, 26, TITLE),
    ann("c) Zonally averaged precipitation rate accumulated over the day", 606, 803, 26, TITLE),
    ann("20.12.2013", 647, 838, 26, TITLE),
    ann("rel. frequency", 42, 185, 24, SANS, angle=-90),
    ann("rel. frequency", 22, 575, 24, SANS, angle=-90),
    ann('<span style="font-family:DejaVu Sans">P</span> [kg m<sup>−2</sup>hr<sup>−1</sup>]', 265, 958, 27, SERIF,
        angle=-90),
    ann('<span style="font-family:DejaVu Sans">latitude</span> [ °N]', 646, 1107, 23, SERIF),
]
for cx in (262, 616, 970):
    annotations.append(ann("<i>ω</i> [Pa s<sup>−1</sup>]", cx, 345, 31, SERIF))
    annotations.append(ann("v [m s<sup>−1</sup>]", cx, 737, 31, SERIF))
for (txt, x, y) in [("ITCZ", 130, 80), ("NW region", 484, 80), ("SE region", 851, 80),
                    ("ITCZ", 127, 454), ("NW region", 486, 454), ("SE region", 837, 454)]:
    annotations.append(ann(txt, x, y, 24, SANS, xanchor="left"))

fig.update_layout(
    width=W, height=H, margin=dict(l=0, r=0, t=0, b=0, pad=0, autoexpand=False),
    paper_bgcolor="white", plot_bgcolor="white",
    annotations=annotations,
    legend=dict(x=1050 / W, y=1 - 55 / H, xanchor="left", yanchor="top", bgcolor="rgba(0,0,0,0)",
                font=dict(family=SANS, size=20, color="#000"), tracegroupgap=2, itemwidth=45,
                borderwidth=0),
    legend2=dict(x=823 / W, y=1 - 858 / H, xanchor="left", yanchor="top", bgcolor="rgba(0,0,0,0)",
                 font=dict(family=SANS, size=19, color="#000"), tracegroupgap=1, itemwidth=44,
                 borderwidth=0),
    **lay,
)

fig.write_html("out.html", config={"displayModeBar": False},
               post_script="document.body.style.margin='0px';document.body.style.overflow='hidden';")
